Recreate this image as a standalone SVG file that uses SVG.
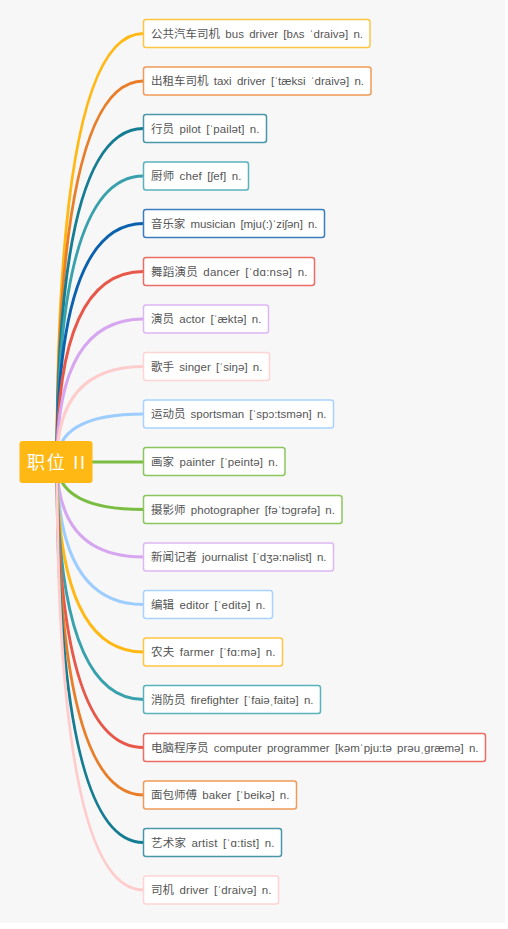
<svg xmlns="http://www.w3.org/2000/svg" width="508" height="929" viewBox="0 0 508 929">
<style>
.bg{fill:#f7f7f7}
.c{fill:none;stroke-width:3;stroke-linecap:round}
.b{fill:#ffffff;stroke-width:1.5}
.t{font-family:"Liberation Sans","Noto Sans CJK SC",sans-serif;font-size:11.5px;fill:#555555;word-spacing:2px}
.rt{font-family:"Liberation Sans","Noto Sans CJK SC",sans-serif;font-size:18px;fill:#ffffff}
.yel{stroke:#FFB814}.yelb{stroke:#FFC542}
.ora{stroke:#E97E2A}.orab{stroke:#EE9A58}
.dte{stroke:#157D92}.dteb{stroke:#4896AA}
.tea{stroke:#38A1AC}.teab{stroke:#5AB3BC}
.blu{stroke:#0B61AD}.blub{stroke:#3A7EC0}
.red{stroke:#E8584A}.redb{stroke:#EC6E63}
.lav{stroke:#D6A7F0}.lavb{stroke:#DDB7F4}
.pin{stroke:#FFCCCC}.pinb{stroke:#FFD4D4}
.lbl{stroke:#9DCDFF}.lblb{stroke:#A9D3FF}
.grn{stroke:#7BBD42}.grnb{stroke:#8CC65E}
</style>
<rect class="bg" x="0" y="0" width="505" height="923"/>
<g id="connectors">
<path class="c yel" d="M57,462 Q57,33.5 143.5,33.5"/>
<path class="c ora" d="M57,462 Q57,81 143.5,81"/>
<path class="c dte" d="M57,462 Q57,128.5 143.5,128.5"/>
<path class="c tea" d="M57,462 Q57,176 143.5,176"/>
<path class="c blu" d="M57,462 Q57,223.5 143.5,223.5"/>
<path class="c red" d="M57,462 Q57,271.5 143.5,271.5"/>
<path class="c lav" d="M57,462 Q57,319 143.5,319"/>
<path class="c pin" d="M57,462 Q57,366.5 143.5,366.5"/>
<path class="c lbl" d="M57,462 Q57,414 143.5,414"/>
<path class="c grn" d="M57,462 L143.5,462"/>
<path class="c grn" d="M57,462 Q57,509.5 143.5,509.5"/>
<path class="c lav" d="M57,462 Q57,557 143.5,557"/>
<path class="c lbl" d="M57,462 Q57,604.5 143.5,604.5"/>
<path class="c yel" d="M57,462 Q57,652 143.5,652"/>
<path class="c tea" d="M57,462 Q57,699.5 143.5,699.5"/>
<path class="c red" d="M57,462 Q57,747.5 143.5,747.5"/>
<path class="c ora" d="M57,462 Q57,795 143.5,795"/>
<path class="c dte" d="M57,462 Q57,842.5 143.5,842.5"/>
<path class="c pin" d="M57,462 Q57,890 143.5,890"/>
</g>
<g id="root">
<rect x="19.5" y="441" width="73" height="42" rx="3" fill="#FFB814"/>
<text class="rt" x="27" y="468.5" textLength="58" lengthAdjust="spacing">职位 II</text>
</g>
<g id="n1"><rect class="b yelb" x="143.5" y="19.5" width="226.5" height="28" rx="2.5"/><text class="t" x="151" y="37.5" textLength="212" lengthAdjust="spacing">公共汽车司机 bus driver [bʌs ˈdraivə] n.</text></g>
<g id="n2"><rect class="b orab" x="143.5" y="67" width="227.5" height="28" rx="2.5"/><text class="t" x="151" y="85" textLength="213" lengthAdjust="spacing">出租车司机 taxi driver [ˈtæksi ˈdraivə] n.</text></g>
<g id="n3"><rect class="b dteb" x="143.5" y="114.5" width="123" height="28" rx="2.5"/><text class="t" x="151" y="132.5" textLength="108.5" lengthAdjust="spacing">行员 pilot [ˈpailət] n.</text></g>
<g id="n4"><rect class="b teab" x="143.5" y="162" width="105" height="28" rx="2.5"/><text class="t" x="151" y="180" textLength="90.5" lengthAdjust="spacing">厨师 chef [ʃef] n.</text></g>
<g id="n5"><rect class="b blub" x="143.5" y="209.5" width="181" height="28" rx="2.5"/><text class="t" x="151" y="227.5" textLength="166.5" lengthAdjust="spacing">音乐家 musician [mju(:)ˈziʃən] n.</text></g>
<g id="n6"><rect class="b redb" x="143.5" y="257.5" width="171" height="28" rx="2.5"/><text class="t" x="151" y="275.5" textLength="156.5" lengthAdjust="spacing">舞蹈演员 dancer [ˈdɑ:nsə] n.</text></g>
<g id="n7"><rect class="b lavb" x="143.5" y="305" width="125" height="28" rx="2.5"/><text class="t" x="151" y="323" textLength="110.5" lengthAdjust="spacing">演员 actor [ˈæktə] n.</text></g>
<g id="n8"><rect class="b pinb" x="143.5" y="352.5" width="126" height="28" rx="2.5"/><text class="t" x="151" y="370.5" textLength="111.5" lengthAdjust="spacing">歌手 singer [ˈsiŋə] n.</text></g>
<g id="n9"><rect class="b lblb" x="143.5" y="400" width="190" height="28" rx="2.5"/><text class="t" x="151" y="418" textLength="175.5" lengthAdjust="spacing">运动员 sportsman [ˈspɔ:tsmən] n.</text></g>
<g id="n10"><rect class="b grnb" x="143.5" y="447.5" width="141.5" height="28" rx="2.5"/><text class="t" x="151" y="465.5" textLength="127" lengthAdjust="spacing">画家 painter [ˈpeintə] n.</text></g>
<g id="n11"><rect class="b grnb" x="143.5" y="495.5" width="198.5" height="28" rx="2.5"/><text class="t" x="151" y="513.5" textLength="184" lengthAdjust="spacing">摄影师 photographer [fəˈtɔgrəfə] n.</text></g>
<g id="n12"><rect class="b lavb" x="143.5" y="543" width="190" height="28" rx="2.5"/><text class="t" x="151" y="561" textLength="175.5" lengthAdjust="spacing">新闻记者 journalist [ˈdʒə:nəlist] n.</text></g>
<g id="n13"><rect class="b lblb" x="143.5" y="590.5" width="129" height="28" rx="2.5"/><text class="t" x="151" y="608.5" textLength="114.5" lengthAdjust="spacing">编辑 editor [ˈeditə] n.</text></g>
<g id="n14"><rect class="b yelb" x="143.5" y="638" width="139" height="28" rx="2.5"/><text class="t" x="151" y="656" textLength="124.5" lengthAdjust="spacing">农夫 farmer [ˈfɑ:mə] n.</text></g>
<g id="n15"><rect class="b teab" x="143.5" y="685.5" width="177" height="28" rx="2.5"/><text class="t" x="151" y="703.5" textLength="162.5" lengthAdjust="spacing">消防员 firefighter [ˈfaiəˌfaitə] n.</text></g>
<g id="n16"><rect class="b redb" x="143.5" y="733.5" width="342" height="28" rx="2.5"/><text class="t" x="151" y="751.5" textLength="327.5" lengthAdjust="spacing">电脑程序员 computer programmer [kəmˈpju:tə prəuˌgræmə] n.</text></g>
<g id="n17"><rect class="b orab" x="143.5" y="781" width="153" height="28" rx="2.5"/><text class="t" x="151" y="799" textLength="138.5" lengthAdjust="spacing">面包师傅 baker [ˈbeikə] n.</text></g>
<g id="n18"><rect class="b dteb" x="143.5" y="828.5" width="138" height="28" rx="2.5"/><text class="t" x="151" y="846.5" textLength="123.5" lengthAdjust="spacing">艺术家 artist [ˈɑ:tist] n.</text></g>
<g id="n19"><rect class="b pinb" x="143.5" y="876" width="135" height="28" rx="2.5"/><text class="t" x="151" y="894" textLength="120.5" lengthAdjust="spacing">司机 driver [ˈdraivə] n.</text></g>
</svg>
